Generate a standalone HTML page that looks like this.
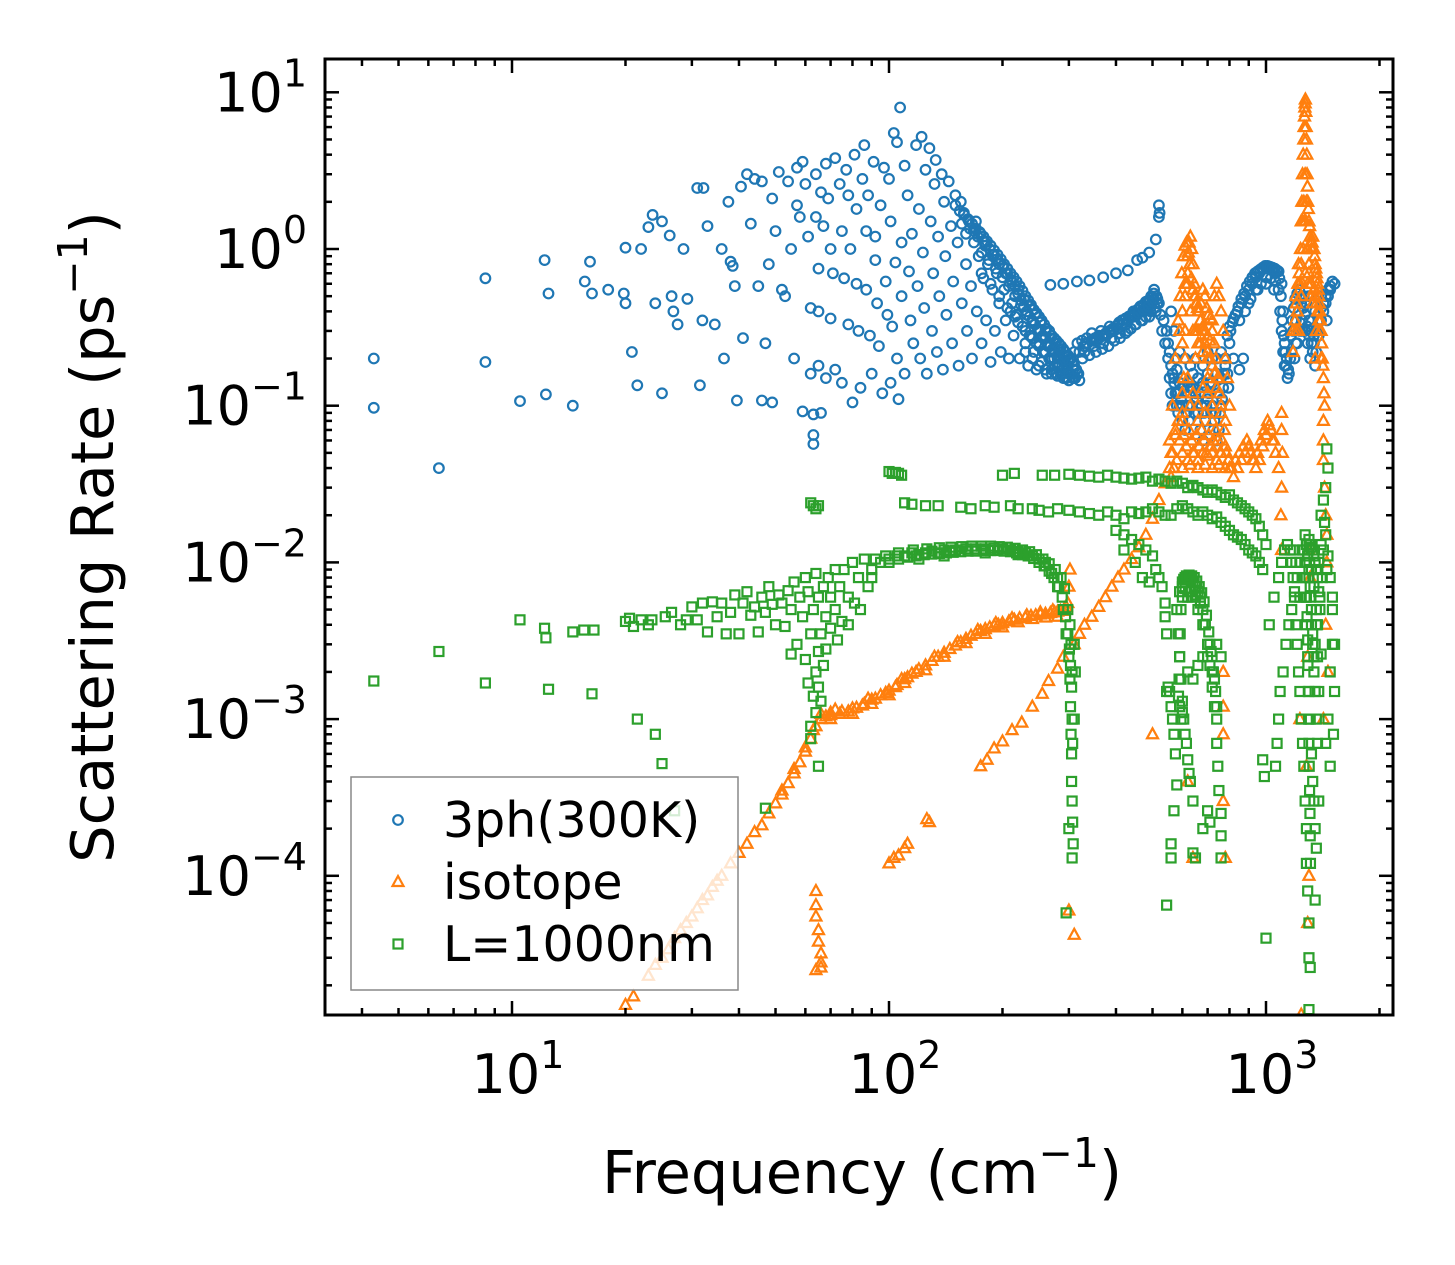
<!DOCTYPE html>
<html><head><meta charset="utf-8">
<style>
html,body{margin:0;padding:0;background:#fff;}
svg{display:block;}
text{font-family:"DejaVu Sans","Liberation Sans",sans-serif;fill:#000;}
</style></head>
<body>
<svg id="chart" width="1455" height="1265" viewBox="0 0 1455 1265" xmlns="http://www.w3.org/2000/svg">
<rect width="1455" height="1265" fill="#fff"/>
<g id="marks"></g>
<g id="axes"></g>
</svg>
<script>
// ---------- data (frequency cm^-1, rate ps^-1) ----------
const xTickExps=[1,2,3];
const yTickExps=[1,0,-1,-2,-3,-4];
const legendLabels=["3ph(300K)","isotope","L=1000nm"];

const threePh=[
[4.3,0.2],[4.3,0.097],[6.4,0.04],[8.5,0.65],[8.5,0.19],[10.5,0.107],[12.2,0.85],[12.5,0.52],[12.3,0.118],[14.5,0.1],
[15.6,0.62],[16.1,0.83],[16.3,0.52],[18,0.55],[19.8,0.52],[20,1.02],[20,0.45],[20.8,0.22],[21.5,0.135],[22,1.0],
[23,1.38],[23.6,1.65],[24,0.45],[25,1.5],[25,0.12],[26.2,1.22],[26.5,0.5],[26.8,0.4],[27.5,0.33],[28.5,1.0],[29.2,0.48],
[31,2.45],[31.5,0.135],[32.2,2.45],[32,0.35],[33,1.4],[34.5,0.33],[36,1.0],[36.5,0.2],[37.5,2.0],[38,0.83],[38.5,0.78],
[39,0.58],[39.5,0.108],[40.5,2.5],[41,0.27],[42,3.0],[43,1.45],[44,2.8],[45,0.58],[46,2.7],[46,0.108],[47,0.25],[48,0.8],
[49,2.1],[49,0.105],[50,1.3],[51,3.1],[52,0.55],[53,0.5],[54,2.7],[55,1.0],[56,0.2],[57,3.3],[57,1.9],[58,1.6],[59,3.6],
[59,0.092],[60,2.6],[61,1.2],[62,0.42],[62,0.16],[63,0.088],[63,0.065],[63,0.057],[64,3.0],[64,1.6],[65,0.75],[65,0.4],
[65,0.18],[66,2.3],[66,0.09],[67,1.4],[68,3.5],[68,0.15],[69,2.1],[70,1.0],[70,0.36],[71,0.7],[72,3.8],[72,0.17],
[74,2.6],[75,1.3],[75,0.14],[76,0.65],[77,3.2],[78,2.2],[78,0.33],[79,1.0],[80,0.105],[81,4.0],[82,1.8],[82,0.6],
[83,0.3],[84,0.13],[85,2.8],[86,4.6],[87,1.3],[87,0.55],[88,2.2],[89,0.28],[90,0.16],[91,3.6],[92,1.2],[92,0.85],
[93,0.45],[94,0.24],[95,1.9],[96,0.12],[97,3.3],[98,0.62],[99,0.38],[100,2.8],[101,1.5],[101,0.14],[102,0.32],
[103,5.5],[104,0.82],[105,4.8],[105,0.2],[106,0.11],[107,8.0],[108,1.1],[108,0.5],[110,3.4],[110,0.16],[112,2.2],
[113,0.72],[114,0.35],[115,1.25],[116,0.25],[118,4.6],[119,0.58],[120,1.8],[121,0.2],[122,5.2],[123,0.95],[124,0.42],
[125,3.2],[126,0.16],[128,4.4],[129,1.5],[130,0.3],[131,0.7],[132,2.6],[133,3.7],[134,0.22],[135,1.2],[136,0.5],
[138,3.0],[139,0.17],[140,2.0],[141,0.9],[142,0.38],[144,2.7],[146,1.4],[147,0.25],[148,0.62],[150,2.2],[152,1.1],
[153,0.18],[155,2.0],[156,0.45],[158,1.7],[160,0.8],[161,0.3],[163,1.5],[165,0.58],[166,0.2],[168,1.3],[170,1.5],
[171,0.4],[173,0.9],[175,1.25],[176,0.25],[178,0.65],[180,1.1],[181,0.35],[183,0.8],[185,1.0],[186,0.19],[188,0.55],
[190,0.92],[191,0.3],[193,0.7],[195,0.84],[196,0.45],[198,0.22],[200,0.78],[202,0.55],[204,0.35],[206,0.7],[208,0.2],
[210,0.64],[212,0.45],[214,0.28],[216,0.58],[218,0.38],[220,0.52],[222,0.2],[224,0.47],[226,0.32],[228,0.43],[230,0.25],
[232,0.4],[234,0.18],[236,0.37],[238,0.28],[240,0.35],[242,0.22],[244,0.33],[246,0.17],[248,0.31],[250,0.25],[252,0.3],
[254,0.19],[256,0.28],[258,0.22],[260,0.27],[262,0.16],[264,0.25],[266,0.2],[268,0.24],[270,0.17],[272,0.23],[274,0.2],
[276,0.22],[278,0.16],[280,0.21],[283,0.18],[286,0.2],[289,0.16],[292,0.19],[295,0.15],[298,0.18],[301,0.16],[304,0.2],
[307,0.15],[310,0.22],[313,0.17],[316,0.25],[268,0.59],[290,0.6],[315,0.62],[340,0.63],[370,0.66],[400,0.7],[430,0.73],
[455,0.85],[470,0.88],[490,0.95],[510,1.15],[520,1.9],[522,1.7],[520,1.6],[505,0.55],
[325,0.26],[335,0.27],[345,0.29],[355,0.26],[365,0.3],[375,0.28],[385,0.32],[395,0.3],[405,0.33],[415,0.35],[425,0.33],
[435,0.37],[445,0.4],[455,0.38],[465,0.42],[475,0.4],[485,0.45],[495,0.43],[505,0.48],[515,0.45],[525,0.38],[330,0.22],
[350,0.24],[370,0.25],[390,0.27],[410,0.29],[430,0.3],[450,0.33],[470,0.35],[490,0.37],[510,0.4],[530,0.3],[540,0.25],
[550,0.2],[555,0.15],[560,0.12],[565,0.1],[570,0.15],[575,0.2],[580,0.12],[585,0.09],[590,0.1],[600,0.08],[610,0.07],
[620,0.1],[630,0.13],[640,0.16],[650,0.12],[660,0.09],[670,0.07],[680,0.06],[690,0.08],[700,0.11],[710,0.14],[720,0.1],
[730,0.08],[740,0.06],[750,0.07],[760,0.1],[770,0.13],[560,0.4],[570,0.3],[590,0.22],[610,0.2],[630,0.18],[650,0.2],
[680,0.18],[700,0.22],[720,0.2],[740,0.16],[760,0.15],[780,0.2],[790,0.28],[800,0.32],[820,0.36],[840,0.4],[860,0.45],
[880,0.5],[900,0.55],[920,0.6],[940,0.66],[960,0.7],[980,0.74],[1000,0.76],[1020,0.75],[1040,0.73],[1060,0.7],[1080,0.72],
[1100,0.6],[1110,0.4],[1120,0.25],[1130,0.18],[1140,0.15],[900,0.45],[950,0.55],[1000,0.6],[1050,0.55],[800,0.25],
[820,0.2],[850,0.17],[870,0.2],[1160,0.2],[1180,0.3],[1200,0.35],[1220,0.4],[1240,0.45],[1260,0.5],[1280,0.45],[1300,0.35],
[1320,0.3],[1340,0.25],[1360,0.22],[1380,0.28],[1400,0.35],[1420,0.4],[1440,0.45],[1460,0.5],[1480,0.55],[1500,0.62],
[1520,0.6],[1200,0.25],[1250,0.3],[1300,0.5],[1350,0.4],[1400,0.5],[1450,0.35]
];
// dense band fill for 3ph
const threePhBand=[
[150,1.9],[154,1.75],[158,1.65],[162,1.55],[166,1.45],[170,1.35],[174,1.28],[178,1.2],[182,1.12],[186,1.05],[190,0.98],
[194,0.92],[198,0.86],[202,0.8],[206,0.75],[210,0.7],[214,0.66],[218,0.62],[222,0.58],[226,0.54],[230,0.5],[234,0.47],
[238,0.44],[242,0.41],[246,0.39],[250,0.37],[254,0.35],[258,0.33],[262,0.31],[266,0.3],[270,0.28],[274,0.27],[278,0.26],
[282,0.25],[286,0.24],[290,0.23],[294,0.22],[298,0.21],[302,0.2],[306,0.19],[310,0.18],[314,0.17],[318,0.16],
[160,1.25],[168,1.1],[176,0.95],[184,0.85],[192,0.75],[200,0.66],[208,0.58],[216,0.5],[224,0.44],[232,0.38],[240,0.34],
[248,0.3],[256,0.27],[264,0.24],[272,0.22],[280,0.2],[288,0.18],[296,0.17],[304,0.16],[312,0.15],[320,0.145],
[176,0.7],[186,0.6],[196,0.5],[206,0.42],[216,0.37],[226,0.32],[236,0.28],[246,0.25],[256,0.22],[266,0.2],[276,0.18],
[286,0.16],[296,0.15],[230,0.22],[240,0.2],[250,0.18],[260,0.17],[270,0.16],[280,0.155],[290,0.15],[300,0.145],[310,0.15],
[156,1.45],[164,1.35],[172,1.2],[180,1.05],[188,0.92],[196,0.8],[204,0.7],[212,0.62],[220,0.55],[228,0.48],[236,0.43],
[244,0.38],[252,0.34],[260,0.3],[268,0.27],[276,0.25],[284,0.23],[292,0.21],[300,0.19],[308,0.17],[316,0.16],
[210,0.4],[220,0.34],[230,0.3],[240,0.27],[250,0.24],[260,0.22],[270,0.2],[280,0.18],[290,0.17],[300,0.16],
[320,0.22],[328,0.24],[336,0.25],[344,0.26],[352,0.27],[360,0.28],[368,0.28],[376,0.29],[384,0.3],[392,0.31],[400,0.32],
[408,0.34],[416,0.35],[424,0.36],[432,0.37],[440,0.38],[448,0.39],[456,0.41],[464,0.43],[472,0.44],[480,0.46],[488,0.47],
[496,0.5],[504,0.52],[512,0.5],[520,0.45],[326,0.2],[340,0.21],[354,0.22],[368,0.23],[382,0.24],[396,0.26],[410,0.27],
[424,0.29],[438,0.31],[452,0.33],[466,0.35],[480,0.37],[494,0.4],[508,0.42],
[333,0.25],[347,0.26],[361,0.27],[375,0.28],[389,0.3],[403,0.31],[417,0.33],[431,0.35],[445,0.37],[459,0.39],[473,0.41],
[487,0.43],[501,0.46],[515,0.48],
[535,0.35],[545,0.3],[550,0.25],[555,0.22],[560,0.18],[565,0.16],[570,0.14],[575,0.12],[580,0.1],[585,0.12],[590,0.14],
[595,0.11],[600,0.1],[605,0.13],[615,0.09],[625,0.08],[635,0.1],[645,0.09],[655,0.11],[665,0.12],[675,0.1],[685,0.09],
[695,0.1],[705,0.12],[715,0.09],[725,0.07],[735,0.09],[745,0.12],[755,0.09],[765,0.11],[775,0.16],[580,0.17],[600,0.15],
[620,0.14],[640,0.13],[660,0.15],[680,0.14],[700,0.16],[720,0.14],[740,0.2],[760,0.22],[780,0.18],[790,0.16],[795,0.13],
[805,0.3],[815,0.34],[830,0.38],[845,0.43],[860,0.48],[875,0.52],[890,0.58],[905,0.62],[920,0.66],[935,0.7],[950,0.72],
[965,0.74],[980,0.76],[995,0.78],[1010,0.78],[1025,0.77],[1040,0.76],[1055,0.75],[1070,0.73],[1085,0.65],[1095,0.5],
[1105,0.35],[1115,0.28],[1125,0.22],[1135,0.2],[1145,0.17],[1150,0.16],[850,0.35],[880,0.4],[910,0.48],[940,0.55],
[970,0.6],[1000,0.66],[1030,0.65],[1060,0.62],[1080,0.55],[1090,0.4],[1100,0.3],[1110,0.22],[1120,0.18],
[1165,0.28],[1175,0.35],[1185,0.42],[1195,0.48],[1210,0.52],[1225,0.55],[1240,0.5],[1255,0.42],[1270,0.38],[1285,0.32],
[1300,0.28],[1320,0.25],[1340,0.28],[1360,0.3],[1380,0.35],[1400,0.42],[1420,0.45],[1440,0.5],[1460,0.55],[1480,0.58],
[1170,0.22],[1190,0.2],[1210,0.25],[1230,0.3],[1250,0.35],[1270,0.3],[1290,0.25],[1310,0.2],[1330,0.22],[1350,0.18]
];

const isotope=[
[20,1.5e-5],[21,1.7e-5],[23,2.3e-5],[24,2.7e-5],[25,3e-5],[26,3.4e-5],[27,4e-5],[28,4.5e-5],[29,5e-5],[30,5.5e-5],
[31,6.2e-5],[32,7e-5],[33,7.5e-5],[34,8.5e-5],[35,9.3e-5],[36,1e-4],[38,1.2e-4],[40,1.4e-4],[42,1.6e-4],[44,1.9e-4],
[46,2.1e-4],[48,2.5e-4],[50,2.9e-4],[52,3.3e-4],[54,3.9e-4],[56,4.5e-4],[58,5.3e-4],[60,6.2e-4],[62,7.5e-4],[64,9e-4],
[66,1.0e-3],[68,1.04e-3],[70,1.06e-3],[74,1.08e-3],[78,1.12e-3],[82,1.18e-3],[86,1.25e-3],[90,1.33e-3],[95,1.42e-3],
[100,1.52e-3],[105,1.65e-3],[110,1.8e-3],[115,1.95e-3],[120,2.08e-3],[130,2.35e-3],[140,2.65e-3],[150,2.95e-3],
[160,3.25e-3],[170,3.5e-3],[180,3.75e-3],[190,3.95e-3],[200,4.1e-3],[215,4.3e-3],[230,4.45e-3],[245,4.6e-3],[260,4.7e-3],
[275,4.8e-3],[285,4.9e-3],[295,5.2e-3],[300,7e-3],[302,9e-3],
[64,8e-5],[64,6.5e-5],[64,5.5e-5],[65,4.5e-5],[65,3.8e-5],[66,3.2e-5],[66,2.8e-5],[64,2.5e-5],[66,2.6e-5],
[100,1.2e-4],[103,1.3e-4],[106,1.35e-4],[110,1.5e-4],[112,1.6e-4],[126,2.3e-4],[128,2.2e-4],[175,5e-4],[182,5.5e-4],
[190,6.5e-4],[200,7.2e-4],[212,8.5e-4],[225,9.5e-4],[240,1.2e-3],[255,1.45e-3],[265,1.75e-3],[280,2.1e-3],[290,2.5e-3],
[310,3e-3],[320,3.5e-3],[330,4e-3],[345,4.5e-3],[360,5.2e-3],[375,6e-3],[390,7e-3],[405,8e-3],[420,9e-3],[440,1.05e-2],
[460,1.25e-2],[480,1.5e-2],[500,1.9e-2],[520,2.5e-2],[540,3.2e-2],[555,4e-2],[565,5e-2],[575,6.5e-2],[585,8e-2],
[310,4.2e-5],[300,6e-5],
[560,0.035],[580,0.045],[600,0.05],[620,0.045],[640,0.05],[660,0.045],[680,0.05],[700,0.048],[720,0.05],[740,0.045],
[760,0.05],[780,0.055],[800,0.04],[820,0.035],[840,0.04],[860,0.045],[880,0.05],[900,0.055],[920,0.045],[940,0.04],
[960,0.045],[980,0.055],[1000,0.065],[1020,0.075],[1040,0.06],[1060,0.05],[1080,0.04],[1100,0.03],
[600,0.08],[605,0.15],[610,0.3],[615,0.6],[620,0.9],[625,1.1],[630,1.2],[635,1.0],[640,0.8],[645,0.6],[650,0.5],
[655,0.45],[660,0.4],[670,0.35],[680,0.32],[690,0.3],[700,0.28],[710,0.26],[600,0.4],[610,0.5],[620,0.6],[640,0.55],
[660,0.3],[680,0.22],[700,0.2],[720,0.35],[730,0.5],[740,0.6],[750,0.5],[760,0.4],[770,0.3],[780,0.2],[790,0.15],
[800,0.1],[600,0.12],[620,0.15],[640,0.12],[660,0.1],[680,0.13],[700,0.15],[720,0.1],[740,0.13],[760,0.09],[780,0.08],
[610,0.2],[650,0.2],[700,0.12],[750,0.15],[1100,0.09],[1100,0.07],[1105,0.05],[1095,0.02],[1100,0.012],
[1180,0.3],[1200,0.5],[1220,0.8],[1240,1.5],[1250,3],[1260,5],[1265,7],[1270,8.5],[1275,7.5],[1280,5],[1285,3],
[1290,2],[1300,1.5],[1310,1.2],[1320,1.0],[1330,1.2],[1340,1.0],[1350,0.8],[1360,0.7],[1370,0.6],[1380,0.5],
[1390,0.4],[1400,0.3],[1410,0.2],[1420,0.15],[1430,0.1],[1250,1.5],[1260,2],[1270,3],[1280,2],[1240,0.8],[1230,0.6],
[1210,0.4],[1290,1.0],[1300,0.7],[1310,0.6],[1320,0.5],[1330,0.45],[1350,0.5],[1370,0.4],[1390,0.3],[1200,0.3],
[1180,0.22],[1420,0.08],[1420,0.06],[1420,0.045],[1430,0.03],[1440,0.02],[1450,0.015],[1450,0.01],[1440,0.004],
[1460,0.002],[1420,0.001],[1300,0.012],[1310,0.008],[1290,0.0025],[1280,0.0005],[1230,0.001],[1300,1e-4],[1290,5e-5],
[1240,1.3e-5],[1350,0.2],[1360,0.3],
[770,0.002],[770,0.0012],[770,0.0008],[770,0.0003],[780,0.00013],[640,1.3e-4],[620,0.0004],[500,0.0008]
];
// dense band fill for isotope
const isotopeBand=[
[66,1.08e-3],[70,1.1e-3],[75,1.12e-3],[80,1.17e-3],[85,1.22e-3],[92,1.35e-3],[98,1.47e-3],[104,1.6e-3],[112,1.85e-3],
[118,2.0e-3],[125,2.2e-3],[135,2.5e-3],[145,2.8e-3],[155,3.1e-3],[165,3.4e-3],[175,3.65e-3],[185,3.85e-3],[195,4.0e-3],
[208,4.2e-3],[222,4.4e-3],[238,4.55e-3],[252,4.65e-3],[268,4.75e-3],[280,4.85e-3],[290,4.9e-3],[298,5.5e-3],
[70,1.0e-3],[80,1.08e-3],[90,1.25e-3],[100,1.42e-3],[110,1.7e-3],[125,2.05e-3],[140,2.5e-3],[160,3.05e-3],[180,3.5e-3],
[200,3.85e-3],[220,4.15e-3],[240,4.35e-3],[260,4.45e-3],[280,4.5e-3],
[72,1.15e-3],[88,1.35e-3],[108,1.8e-3],[132,2.5e-3],[152,3.1e-3],[172,3.7e-3],[192,4.1e-3],[212,4.4e-3],[232,4.6e-3],
[252,4.8e-3],[272,4.95e-3],[52,3.5e-4],[56,4.8e-4],[60,6.6e-4],[63,8.5e-4],
[555,0.06],[565,0.1],[575,0.2],[585,0.35],[592,0.5],[598,0.7],[604,0.9],[610,1.05],[616,1.1],[622,0.95],[628,0.8],
[634,0.65],[640,0.55],[646,0.5],[652,0.45],[658,0.42],[664,0.4],[672,0.45],[680,0.55],[688,0.5],[696,0.42],[704,0.38],
[712,0.36],[720,0.3],[728,0.25],[736,0.2],[744,0.15],[752,0.12],[760,0.1],[590,0.3],[600,0.25],[610,0.6],[620,0.7],
[630,0.4],[640,0.3],[650,0.3],[660,0.25],[670,0.25],[680,0.3],[690,0.25],[700,0.22],[710,0.2],[720,0.18],[730,0.16],
[560,0.05],[575,0.07],[590,0.06],[605,0.065],[615,0.055],[625,0.07],[635,0.06],[645,0.05],[655,0.065],[665,0.055],
[675,0.07],[685,0.06],[695,0.05],[705,0.065],[715,0.055],[725,0.06],[735,0.07],[745,0.06],[755,0.05],[765,0.06],[775,0.07],
[785,0.05],[795,0.045],[810,0.04],[830,0.045],[850,0.05],[870,0.055],[890,0.06],[910,0.05],[930,0.045],[950,0.05],
[970,0.06],[990,0.07],[1010,0.08],[1030,0.07],[1050,0.06],[570,0.04],[600,0.04],[630,0.042],[660,0.04],[690,0.042],
[720,0.04],[750,0.042],[780,0.04],[600,0.09],[630,0.1],[660,0.08],[690,0.09],[720,0.08],
[1195,0.35],[1205,0.45],[1215,0.6],[1225,0.7],[1235,1.0],[1245,2],[1255,4],[1262,6],[1268,8],[1272,9],[1278,6],[1283,4],
[1288,2.5],[1295,1.8],[1305,1.4],[1315,1.1],[1325,1.1],[1335,1.0],[1345,0.9],[1355,0.75],[1365,0.65],[1375,0.55],
[1385,0.45],[1395,0.35],[1405,0.25],[1415,0.18],[1425,0.12],[1240,0.5],[1255,1.0],[1265,1.5],[1275,1.5],[1285,1.0],
[1300,0.8],[1320,0.6],[1340,0.55],[1360,0.45],[1380,0.35],[1400,0.2],[1220,0.3],[1250,0.6],[1270,0.7],[1290,0.6]
];

const boundary=[
[4.3,1.75e-3],[6.4,2.7e-3],[8.5,1.7e-3],[10.5,4.3e-3],[12.2,3.8e-3],[12.3,3.3e-3],[12.5,1.55e-3],[14.5,3.6e-3],
[15.5,3.7e-3],[16.3,1.45e-3],[16.5,3.7e-3],[20,4.2e-3],[20.5,4.4e-3],[21,3.9e-3],[21.5,1.0e-3],[22,4.3e-3],[23,4.0e-3],
[23.5,4.3e-3],[24,8e-4],[25,5.2e-4],[25.5,4.5e-3],[26.5,4.8e-3],[27,2.6e-4],[28,4.0e-3],[29,4.3e-3],[30,5.2e-3],
[31,4.3e-3],[32,5.5e-3],[33,3.6e-3],[34,5.6e-3],[35,4.5e-3],[36,5.5e-3],[37,3.5e-3],[38,4.8e-3],[39,6.2e-3],[40,3.5e-3],
[41,5.5e-3],[42,6.5e-3],[43,4.6e-3],[44,5.2e-3],[45,3.6e-3],[46,6.0e-3],[47,4.8e-3],[47,2.7e-4],[48,7.0e-3],[49,5.4e-3],
[50,4.0e-3],[51,6.2e-3],[52,5.5e-3],[53,3.9e-3],[54,6.6e-3],[55,5.0e-3],[55,2.6e-3],[56,7.5e-3],[57,3.0e-3],[58,6.0e-3],
[59,4.5e-3],[60,2.4e-3],[60,8.0e-3],[61,6.5e-3],[61,1.7e-3],[62,3.5e-3],[62,9e-4],[62,7.5e-4],[63,5.0e-3],[63,1.4e-3],
[64,8.5e-3],[64,2.0e-3],[64,1.1e-3],[65,6.0e-3],[65,2.7e-3],[65,1.6e-3],[65,5e-4],[66,3.5e-3],[66,1.3e-3],[67,7.0e-3],
[67,2.2e-3],[68,4.5e-3],[68,2.8e-3],[69,8.0e-3],[70,6.0e-3],[70,3.8e-3],[72,9.0e-3],[72,5.0e-3],[73,3.2e-3],[74,7.0e-3],
[75,4.2e-3],[76,9.0e-3],[78,6.0e-3],[78,4.0e-3],[80,1.0e-2],[81,5.5e-3],[83,8.0e-3],[84,5.0e-3],[86,1.05e-2],[88,7.0e-3],
[90,9.0e-3],[92,1.05e-2],[95,1.0e-2],[98,1.1e-2],[100,1.05e-2],[105,1.1e-2],[110,1.1e-2],[115,1.15e-2],[120,1.12e-2],
[125,1.15e-2],[130,1.18e-2],[135,1.15e-2],[140,1.2e-2],[145,1.18e-2],[150,1.2e-2],[160,1.22e-2],[170,1.22e-2],
[180,1.22e-2],[190,1.23e-2],[200,1.22e-2],[210,1.2e-2],[220,1.18e-2],[230,1.15e-2],[240,1.1e-2],[250,1.05e-2],
[260,9.5e-3],[270,8.5e-3],[280,7.0e-3],[290,5.0e-3],[295,3.5e-3],[300,2.5e-3],[302,1.8e-3],[303,1.2e-3],[304,8e-4],
[305,6e-4],[305,4e-4],[306,3e-4],[307,2.2e-4],[308,1.6e-4],[306,1.3e-4],[295,5.8e-5],[300,2e-4],[310,1e-3],[312,2e-3],
[310,3e-3],[140,1.1e-2],[180,1.15e-2],[220,1.12e-2],[260,1.0e-2],[280,8e-3],[120,1.05e-2],[90,8e-3],
[62,2.4e-2],[63,2.3e-2],[64,2.2e-2],[65,2.3e-2],[100,3.8e-2],[102,3.7e-2],[104,3.75e-2],[106,3.7e-2],[108,3.6e-2],
[110,2.4e-2],[115,2.35e-2],[125,2.3e-2],[135,2.3e-2],[155,2.25e-2],[165,2.2e-2],[180,2.3e-2],[190,2.25e-2],[210,2.3e-2],
[220,2.2e-2],[240,2.2e-2],[250,2.15e-2],[265,2.1e-2],[280,2.2e-2],[300,2.15e-2],[320,2.1e-2],[340,2.05e-2],[360,2.0e-2],
[380,2.1e-2],[400,2.0e-2],[420,1.9e-2],[440,2.1e-2],[460,2.05e-2],[480,2.1e-2],[500,2.2e-2],[520,2.1e-2],[540,2.0e-2],
[200,3.6e-2],[215,3.7e-2],[255,3.6e-2],[275,3.6e-2],[300,3.65e-2],[320,3.6e-2],[340,3.55e-2],[360,3.5e-2],[380,3.6e-2],
[400,3.5e-2],[420,3.45e-2],[440,3.4e-2],[460,3.45e-2],[480,3.5e-2],[500,3.3e-2],[520,3.4e-2],[540,3.3e-2],[560,3.2e-2],
[580,3.3e-2],[600,3.2e-2],[620,3.0e-2],[640,3.1e-2],[660,3.0e-2],[680,2.9e-2],[700,2.8e-2],[720,2.9e-2],[740,2.8e-2],
[760,2.7e-2],[780,2.6e-2],[800,2.7e-2],[820,2.5e-2],[840,2.4e-2],[860,2.3e-2],[880,2.2e-2],[900,2.1e-2],[920,2.0e-2],
[940,1.9e-2],[960,1.7e-2],[980,1.5e-2],[1000,1.3e-2],[560,2.0e-2],[580,2.2e-2],[600,2.3e-2],[620,2.2e-2],[640,2.1e-2],
[660,2.0e-2],[680,2.1e-2],[700,2.0e-2],[720,1.9e-2],[740,1.95e-2],[760,1.8e-2],[780,1.7e-2],[800,1.6e-2],[820,1.5e-2],
[840,1.45e-2],[860,1.4e-2],[880,1.3e-2],[900,1.2e-2],[920,1.15e-2],[940,1.1e-2],[960,1.0e-2],[980,9e-3],[400,1.6e-2],
[420,1.5e-2],[440,1.4e-2],[460,1.3e-2],[480,1.2e-2],[500,1.1e-2],[510,9e-3],[520,8e-3],[530,7e-3],[540,5.5e-3],
[540,4.5e-3],[545,3.5e-3],[545,1.5e-3],[550,1.6e-3],[555,1.5e-3],[420,1.2e-2],[450,1.0e-2],[470,8e-3],[490,7.5e-3],
[560,1.2e-3],[565,1.0e-3],[570,8e-4],[575,6e-4],[580,3.8e-4],[570,2.6e-4],[560,1.3e-4],[560,1.6e-4],[545,6.5e-5],
[580,5e-3],[590,6.5e-3],[600,7.5e-3],[610,8e-3],[620,8e-3],[630,7.8e-3],[640,7.5e-3],[650,7e-3],[660,6.5e-3],[670,6e-3],
[680,5e-3],[690,4e-3],[700,3e-3],[710,2.2e-3],[720,1.6e-3],[730,1.2e-3],[740,1.0e-3],[585,3.5e-3],[590,2.5e-3],
[595,1.8e-3],[600,1.3e-3],[605,1.0e-3],[610,8e-4],[615,7e-4],[620,5.5e-4],[625,4.5e-4],[630,4e-4],[640,3e-4],[600,6e-3],
[620,6e-3],[640,6e-3],[660,5e-3],[680,4e-3],[700,2.5e-3],[720,2e-3],[740,7e-4],[745,5e-4],[750,3.5e-4],[760,2.5e-4],
[760,1.8e-4],[760,1.3e-4],[640,1.4e-4],[650,1.3e-4],[680,2e-4],[700,2.6e-4],[710,2.2e-4],[740,3e-3],[760,2.5e-3],
[620,2e-3],[640,1.8e-3],[660,2.2e-3],[680,2.5e-3],
[980,5.5e-4],[990,4.3e-4],[1000,4e-5],[1020,4e-3],[1050,6e-3],[1080,8e-3],[1100,1e-2],[1120,1.2e-2],[1140,1.3e-2],
[1160,1.2e-2],[1170,1.0e-2],[1180,8e-3],[1190,6e-3],[1200,4e-3],[1210,3e-3],[1220,2e-3],[1230,1.5e-3],[1240,1e-3],
[1250,7e-4],[1260,5e-4],[1270,3e-4],[1280,2e-4],[1280,1.2e-4],[1290,8e-5],[1300,5e-5],[1300,3e-5],[1310,2.6e-5],
[1300,1.4e-5],[1270,1.5e-2],[1280,1.3e-2],[1290,1.1e-2],[1300,9e-3],[1310,7e-3],[1320,5e-3],[1330,3.5e-3],[1340,2.5e-3],
[1350,1.5e-3],[1360,1e-3],[1370,7e-4],[1250,1.2e-2],[1230,1.0e-2],[1210,8e-3],[1190,6.5e-3],[1170,5e-3],[1150,4e-3],
[1130,3e-3],[1110,2e-3],[1090,1.5e-3],[1080,1e-3],[1070,7e-4],[1060,5e-4],[1270,6e-3],[1280,4e-3],[1290,2.5e-3],
[1300,1.5e-3],[1310,1e-3],[1320,6e-4],[1330,4e-4],[1340,3e-4],[1350,2e-4],[1360,1.5e-4],[1380,1e-2],[1400,1.3e-2],
[1420,1.2e-2],[1440,1.5e-2],[1460,1.1e-2],[1480,8e-3],[1500,5e-3],[1500,3e-3],[1480,2e-3],[1460,1e-3],[1440,7e-4],
[1400,2e-2],[1420,2.5e-2],[1440,3e-2],[1460,4e-2],[1450,5.3e-2],[1430,1.8e-2],[1410,8e-3],[1390,6e-3],[1370,4e-3],
[1360,5e-3],[1340,7e-3],[1320,9e-3],[1300,1.2e-2],[1280,1.0e-2],[1260,8e-3],[1230,6e-3],[1200,1.0e-2],[1180,1.2e-2],
[1520,3e-3],[1520,1.5e-3],[1510,8e-4],[1480,5e-4],[1380,3e-4],[1350,7e-5],[1400,2.6e-3],[1450,9e-3],[1500,6e-3]
];
// dense band fill for boundary scattering
const boundaryBand=[
[100,1.0e-2],[106,1.05e-2],[112,1.08e-2],[118,1.1e-2],[124,1.12e-2],[130,1.13e-2],[136,1.14e-2],[142,1.15e-2],
[148,1.16e-2],[155,1.17e-2],[162,1.18e-2],[170,1.18e-2],[178,1.19e-2],[186,1.19e-2],[194,1.19e-2],[202,1.18e-2],
[210,1.17e-2],[218,1.15e-2],[226,1.12e-2],[234,1.1e-2],[242,1.06e-2],[250,1.0e-2],[258,9.5e-3],[266,8.8e-3],[274,8.0e-3],
[282,7.0e-3],[288,6.0e-3],[294,4.5e-3],[298,3.5e-3],[301,2.8e-3],[303,2.2e-3],[305,1.6e-3],[306,1.0e-3],[307,7e-4],
[106,1.15e-2],[116,1.2e-2],[126,1.22e-2],[136,1.24e-2],[146,1.25e-2],[156,1.26e-2],[166,1.27e-2],[176,1.27e-2],
[186,1.27e-2],[196,1.26e-2],[206,1.25e-2],[216,1.23e-2],[226,1.2e-2],[236,1.17e-2],[246,1.12e-2],[256,1.05e-2],
[266,9.8e-3],[276,9e-3],[286,8e-3],[292,6.8e-3],[298,5e-3],[302,4e-3],[304,3e-3],[306,2e-3],
[600,7e-3],[605,7.8e-3],[615,8.2e-3],[625,8.3e-3],[635,8.2e-3],[645,8e-3],[655,7.6e-3],[665,7e-3],[675,6.4e-3],
[685,5.6e-3],[695,4.6e-3],[705,3.6e-3],[715,2.7e-3],[725,2e-3],[735,1.5e-3],[595,5e-3],[592,3.5e-3],[590,2.5e-3],
[588,1.8e-3],[586,1.4e-3],[590,1.2e-3],[595,1.0e-3],[600,1.1e-3],[610,6.8e-3],[630,6.5e-3],[650,6.2e-3],[670,5.5e-3],
[690,4e-3],[710,3e-3],[730,1.8e-3],[740,1.2e-3],
[1260,1.2e-2],[1270,1.0e-2],[1275,8e-3],[1280,6e-3],[1285,4.5e-3],[1290,3.2e-3],[1292,2.2e-3],[1295,1.5e-3],
[1297,1e-3],[1300,7e-4],[1302,5e-4],[1305,3.5e-4],[1308,2.5e-4],[1310,1.8e-4],[1312,1.2e-4],[1300,1.4e-2],[1310,1.3e-2],
[1320,1.25e-2],[1330,1.2e-2],[1340,1.1e-2],[1350,1.0e-2],[1360,9e-3],[1370,8e-3],[1380,6.5e-3],[1390,5e-3],[1290,1.1e-2],
[1300,8e-3],[1310,6e-3],[1320,4e-3],[1330,3e-3],[1340,2e-3],[1350,3e-3],[1360,4e-3],[1370,2.5e-3],[1380,1.5e-3]
];

// ---------- axes scale ----------
const X0=325,X1=1393,Y0=59,Y1=1015;
const xDec=377, x10=512;
const yDec=156.7, y1=249;
function sx(f){return x10+xDec*(Math.log10(f)-1);}
function sy(v){return y1-yDec*Math.log10(v);}

const NS="http://www.w3.org/2000/svg";
const marks=document.getElementById('marks');
const axes=document.getElementById('axes');
function mk(tag,attrs,parent){const e=document.createElementNS(NS,tag);for(const k in attrs)e.setAttribute(k,attrs[k]);parent.appendChild(e);return e;}

const defs=mk('defs',{},marks);
const cp=mk('clipPath',{id:'clip'},defs);
mk('rect',{x:X0,y:Y0,width:X1-X0,height:Y1-Y0},cp);

const gBlue=mk('g',{'clip-path':'url(#clip)'},marks);


threePh.concat(threePhBand).forEach(function(p){
  const c=mk('circle',{cx:sx(p[0]).toFixed(1),cy:sy(p[1]).toFixed(1),r:4.8,fill:'none',stroke:'#1f77b4','stroke-width':2.2},gBlue);
  
  
});
const gOr=mk('g',{'clip-path':'url(#clip)'},marks);


isotope.concat(isotopeBand).forEach(function(p){
  const x=sx(p[0]),y=sy(p[1]);
  const t=mk('polygon',{points:(x)+','+(y-6)+' '+(x-5.5)+','+(y+4)+' '+(x+5.5)+','+(y+4),fill:'none',stroke:'#ff7f0e','stroke-width':2.2},gOr);
  
  
});
const gGr=mk('g',{'clip-path':'url(#clip)'},marks);


boundary.concat(boundaryBand).forEach(function(p){
  const x=sx(p[0]),y=sy(p[1]);
  const s=mk('rect',{x:x-4.5,y:y-4.5,width:9,height:9,fill:'none',stroke:'#2ca02c','stroke-width':2.2},gGr);
  
  
});

// ---------- frame & ticks ----------
const frame=mk('rect',{x:X0,y:Y0,width:X1-X0,height:Y1-Y0,fill:'none',stroke:'#000','stroke-width':3},axes);



const fmin=Math.pow(10,1+(X0-x10)/xDec), fmax=Math.pow(10,1+(X1-x10)/xDec);
for(let e=0;e<=3;e++){for(let m=1;m<10;m++){const f=m*Math.pow(10,e);if(f<fmin||f>fmax)continue;const x=sx(f);const L=m===1?14:7;
  mk('line',{x1:x,y1:Y1,x2:x,y2:Y1-L,stroke:'#000','stroke-width':2.5},axes);
  mk('line',{x1:x,y1:Y0,x2:x,y2:Y0+L,stroke:'#000','stroke-width':2.5},axes);}}
for(let e=-5;e<=1;e++){for(let m=1;m<10;m++){const v=m*Math.pow(10,e);const y=sy(v);if(y<Y0||y>Y1)continue;const L=m===1?14:7;
  mk('line',{x1:X0,y1:y,x2:X0+L,y2:y,stroke:'#000','stroke-width':2.5},axes);
  mk('line',{x1:X1,y1:y,x2:X1-L,y2:y,stroke:'#000','stroke-width':2.5},axes);}}

xTickExps.forEach(function(e){
  const t=mk('text',{x:sx(Math.pow(10,e))+6,y:1093,'text-anchor':'middle','font-size':54},axes);
  
  
  t.innerHTML='10<tspan dy="-25" font-size="38">'+e+'</tspan>';
});
yTickExps.forEach(function(e){
  const t=mk('text',{x:307,y:sy(Math.pow(10,e))+19,'text-anchor':'end','font-size':54},axes);
  
  
  t.innerHTML='10<tspan dy="-25" font-size="38">'+(e<0?'\u2212'+(-e):e)+'</tspan>';
});
const xl=mk('text',{x:862,y:1193,'text-anchor':'middle','font-size':59},axes);


xl.innerHTML='Frequency (cm<tspan dy="-26" font-size="41">\u22121</tspan><tspan dy="26">)</tspan>';
const yl=mk('text',{x:0,y:0,'text-anchor':'middle','font-size':59,transform:'translate(113,537) rotate(-90)'},axes);


yl.innerHTML='Scattering Rate (ps<tspan dy="-26" font-size="41">\u22121</tspan><tspan dy="26">)</tspan>';

// ---------- legend ----------
const lg=mk('g',{},axes);


mk('rect',{x:351,y:777,width:387,height:213,fill:'rgba(255,255,255,0.8)',stroke:'#888','stroke-width':1.5},lg);
const ly=[820,882,944];
legendLabels.forEach(function(lab,i){
  const g=mk('g',{},lg);
  
  
  const x=398,y=ly[i];
  if(i===0)mk('circle',{cx:x,cy:y,r:4.8,fill:'none',stroke:'#1f77b4','stroke-width':2.2},g);
  if(i===1)mk('polygon',{points:x+','+(y-6)+' '+(x-5.5)+','+(y+4)+' '+(x+5.5)+','+(y+4),fill:'none',stroke:'#ff7f0e','stroke-width':2.2},g);
  if(i===2)mk('rect',{x:x-4.5,y:y-4.5,width:9,height:9,fill:'none',stroke:'#2ca02c','stroke-width':2.2},g);
  const t=mk('text',{x:443,y:y+17,'font-size':49},g);
  t.textContent=lab;
});
</script>
</body></html>
